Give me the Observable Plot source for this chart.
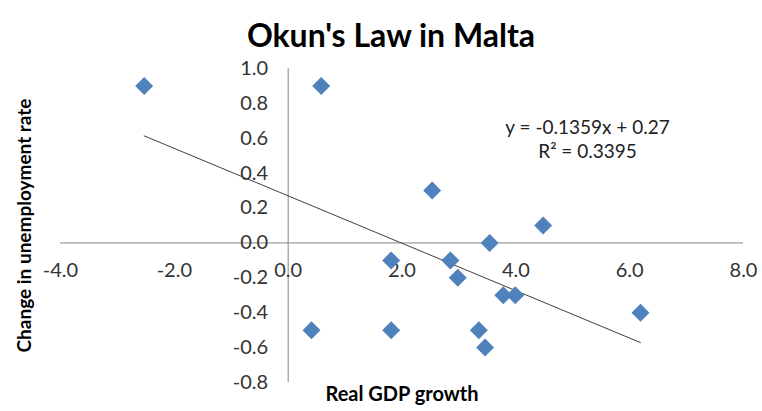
<!DOCTYPE html>
<html>
<head>
<meta charset="utf-8">
<script src="https://cdn.jsdelivr.net/npm/d3@7"></script>
<script src="https://cdn.jsdelivr.net/npm/@observablehq/plot@0.6"></script>
<style>
  html, body { margin: 0; padding: 0; background: #fff; }
</style>
</head>
<body>
<div id="chart"></div>
<script>
const title = "Okun's Law in Malta";
const xLabel = "Real GDP growth";
const yLabel = "Change in unemployment rate";

const gdpGrowth = [-2.53, 0.58, 2.53, 4.48, 3.54, 1.81, 2.85, 2.98, 3.78, 3.99, 6.19, 0.41, 1.81, 3.35, 3.46];
const unempChange = [0.9, 0.9, 0.3, 0.1, 0.0, -0.1, -0.1, -0.2, -0.3, -0.3, -0.4, -0.5, -0.5, -0.5, -0.6];

const xTicks = [-4, -2, 0, 2, 4, 6, 8];
const yTicks = [1.0, 0.8, 0.6, 0.4, 0.2, 0.0, -0.2, -0.4, -0.6, -0.8];

const slope = -0.1359;
const intercept = 0.27;
const rSquared = 0.3395;
const eqLabelX = 5.26;
const eqLabelY = 0.6;

const points = gdpGrowth.map((x, i) => ({x, y: unempChange[i]}));
const [xMin, xMax] = d3.extent(gdpGrowth);
const trend = [xMin, xMax].map(x => ({x, y: slope * x + intercept}));
const eqText = `y = ${slope}x + ${intercept}\nR² = ${rSquared}`;

const font = "Lato, 'Open Sans', sans-serif";

const chart = Plot.plot({
  width: 762,
  height: 411,
  marginLeft: 60,
  marginRight: 19,
  marginTop: 68,
  marginBottom: 29,
  style: {fontFamily: font, background: "#fff"},
  x: {domain: [-4, 8], axis: null},
  y: {domain: [-0.8, 1.0], axis: null},
  marks: [
    Plot.ruleY([0], {x1: -4, x2: 8, stroke: "#868686", strokeWidth: 1}),
    Plot.ruleX([0], {y1: -0.8, y2: 1.0, stroke: "#868686", strokeWidth: 1}),
    Plot.text(yTicks, {x: 0, y: d => d, text: d => d.toFixed(1), textAnchor: "end", dx: -20, fontSize: 20, fill: "#333"}),
    Plot.text(xTicks, {x: d => d, y: 0, text: d => d.toFixed(1), dy: 28, fontSize: 20, fill: "#333"}),
    Plot.line(trend, {x: "x", y: "y", stroke: "#404040", strokeWidth: 1}),
    Plot.dot(points, {x: "x", y: "y", symbol: "diamond2", r: 8.1, fill: "#4F81BD", stroke: "none"}),
    Plot.text([eqText], {x: eqLabelX, y: eqLabelY, text: d => d, fontSize: 19, fill: "#222", lineHeight: 1.25}),
    Plot.text([title], {frameAnchor: "top", dx: -11, dy: -44, text: d => d, fontSize: 32, fontWeight: "bold", fill: "#000"}),
    Plot.text([xLabel], {frameAnchor: "bottom", dy: 18, text: d => d, fontSize: 20, fontWeight: "bold", fill: "#000"}),
    Plot.text([yLabel], {frameAnchor: "left", textAnchor: "middle", dx: -36, rotate: -90, text: d => d, fontSize: 19, fontWeight: "bold", fill: "#000"})
  ]
});
document.getElementById("chart").appendChild(chart);
</script>
</body>
</html>
